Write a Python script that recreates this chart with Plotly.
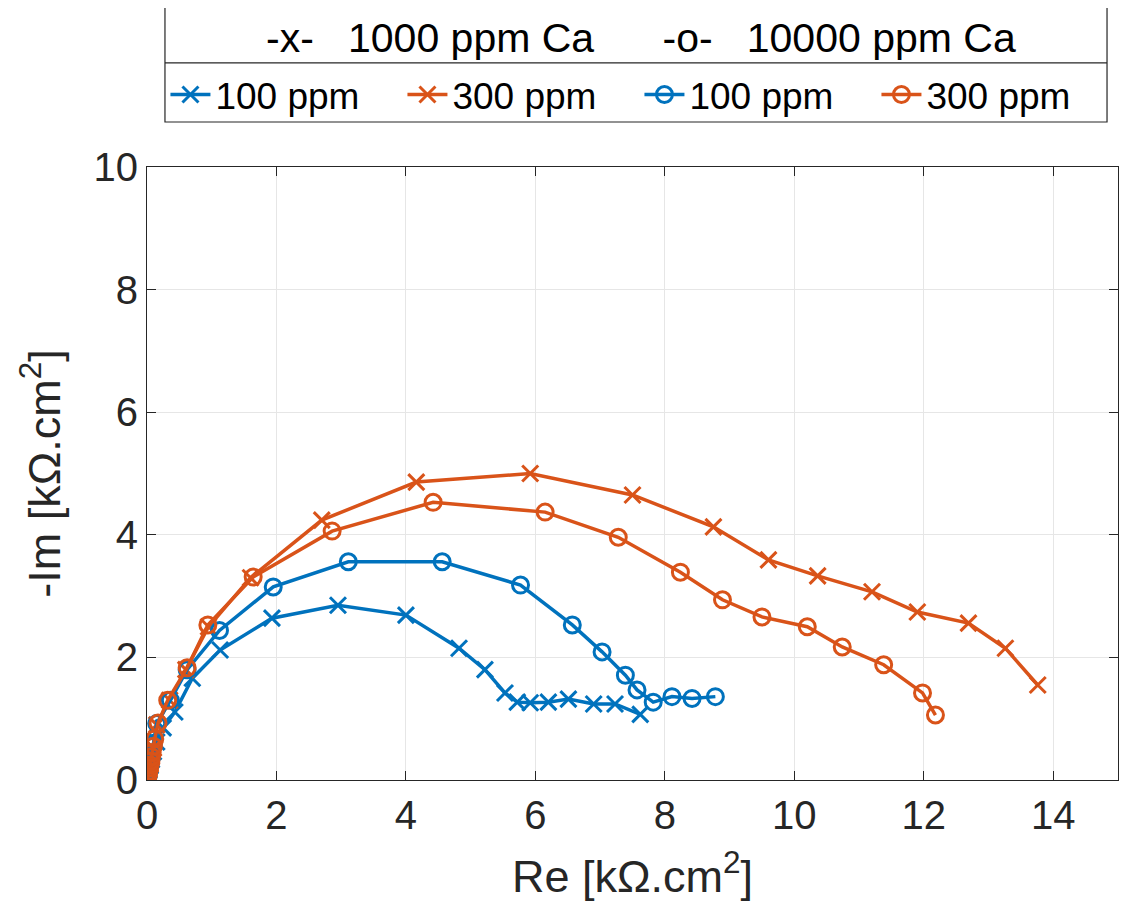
import plotly.graph_objects as go

# ---- data ----
bx_re = [0.0, 0.01, 0.02, 0.03, 0.05, 0.07, 0.1, 0.15, 0.25, 0.43, 0.7, 1.13, 1.93, 2.95, 4.0, 4.82, 5.22, 5.53, 5.72, 5.92, 6.2, 6.51, 6.9, 7.23, 7.62]
bx_im = [0.0, 0.04, 0.09, 0.15, 0.23, 0.33, 0.46, 0.62, 0.85, 1.11, 1.66, 2.12, 2.64, 2.85, 2.69, 2.15, 1.8, 1.42, 1.27, 1.26, 1.27, 1.32, 1.24, 1.24, 1.07]

ox_re = [0.0, 0.01, 0.02, 0.03, 0.05, 0.07, 0.1, 0.15, 0.35, 0.6, 0.95, 1.6, 2.7, 4.16, 5.92, 7.5, 8.75, 9.6, 10.36, 11.2, 11.9, 12.69, 13.26, 13.76]
ox_im = [0.0, 0.05, 0.1, 0.17, 0.26, 0.38, 0.52, 0.9, 1.3, 1.8, 2.5, 3.3, 4.24, 4.86, 5.0, 4.65, 4.13, 3.59, 3.33, 3.07, 2.74, 2.56, 2.15, 1.55]

bo_re = [0.0, 0.01, 0.02, 0.03, 0.05, 0.07, 0.1, 0.15, 0.36, 0.62, 1.12, 1.95, 3.11, 4.56, 5.77, 6.57, 7.03, 7.39, 7.57, 7.82, 8.11, 8.42, 8.78]
bo_im = [0.0, 0.05, 0.11, 0.18, 0.27, 0.38, 0.6, 0.92, 1.3, 1.8, 2.44, 3.15, 3.56, 3.56, 3.18, 2.53, 2.09, 1.71, 1.47, 1.27, 1.36, 1.33, 1.36]

oo_re = [0.0, 0.005, 0.01, 0.015, 0.02, 0.03, 0.04, 0.05, 0.06, 0.07, 0.08, 0.1, 0.12, 0.17, 0.32, 0.62, 0.94, 1.64, 2.86, 4.42, 6.15, 7.28, 8.24, 8.89, 9.5, 10.2, 10.74, 11.38, 11.98, 12.18]
oo_im = [0.0, 0.02, 0.04, 0.07, 0.1, 0.14, 0.19, 0.25, 0.31, 0.38, 0.45, 0.55, 0.67, 0.93, 1.3, 1.83, 2.53, 3.31, 4.06, 4.53, 4.37, 3.96, 3.39, 2.94, 2.66, 2.5, 2.17, 1.88, 1.42, 1.06]

legend_names = ["100 ppm", "300 ppm", "100 ppm", "300 ppm"]
legend_title = ("-x-&nbsp;&nbsp;&nbsp;1000 ppm Ca&nbsp;&nbsp;&nbsp;&nbsp;&nbsp;&nbsp;"
                "-o-&nbsp;&nbsp;&nbsp;10000 ppm Ca")
x_ticks = [0, 2, 4, 6, 8, 10, 12, 14]
y_ticks = [0, 2, 4, 6, 8, 10]

BLUE = "#0072BD"
ORANGE = "#D95319"
FONT = "Liberation Sans, Arial, Helvetica, sans-serif"

fig = go.Figure()

series = [
    (bx_re, bx_im, BLUE, "x-thin", legend_names[0]),
    (ox_re, ox_im, ORANGE, "x-thin", legend_names[1]),
    (bo_re, bo_im, BLUE, "circle-open", legend_names[2]),
    (oo_re, oo_im, ORANGE, "circle-open", legend_names[3]),
]
for xs, ys, col, sym, name in series:
    fig.add_trace(go.Scatter(
        x=xs, y=ys, mode="lines+markers", name=name,
        line=dict(color=col, width=3.5),
        marker=dict(symbol=sym, size=16, color=col, line=dict(color=col, width=3)),
    ))

# legend box & title
fig.add_shape(type="rect", xref="paper", yref="paper", x0=0.0185, x1=0.9887, y0=1.0734, y1=1.269,
              line=dict(color="#262626", width=1.2), fillcolor="white", layer="below")
fig.add_shape(type="line", xref="paper", yref="paper", x0=0.0185, x1=0.9887, y0=1.1697, y1=1.1697,
              line=dict(color="#262626", width=1.2))
fig.add_annotation(text=legend_title, xref="paper", yref="paper", x=0.5088, y=1.211,
                   showarrow=False, font=dict(size=41, color="black", family=FONT),
                   xanchor="center", yanchor="middle")

axis_common = dict(
    showgrid=True, gridcolor="#e6e6e6", gridwidth=1,
    showline=True, linecolor="#262626", linewidth=1.2, mirror="ticks",
    ticks="inside", ticklen=9, tickcolor="#262626", tickwidth=1.2,
    zeroline=False, tickfont=dict(size=40, color="#262626", family=FONT),
)

fig.update_layout(
    width=1116, height=903,
    margin=dict(l=139, r=6, t=159, b=131, autoexpand=False),
    paper_bgcolor="white", plot_bgcolor="white",
    font=dict(family=FONT, color="#262626"),
    xaxis=dict(range=[0, 15], tickvals=x_ticks,
               title=dict(text="Re [kΩ.cm<sup>2</sup>]", font=dict(size=45, color="#262626"), standoff=24),
               **axis_common),
    yaxis=dict(range=[0, 10], tickvals=y_ticks,
               title=dict(text="-Im [kΩ.cm<sup>2</sup>]", font=dict(size=45, color="#262626"), standoff=18),
               **axis_common),
    showlegend=True,
    legend=dict(orientation="h", x=0.019, y=1.1175, xanchor="left", yanchor="middle",
                bgcolor="rgba(0,0,0,0)", borderwidth=0,
                font=dict(size=37, color="black", family=FONT),
                entrywidth=182, entrywidthmode="pixels", itemwidth=40, tracegroupgap=0),
)

fig.write_html("out.html")
